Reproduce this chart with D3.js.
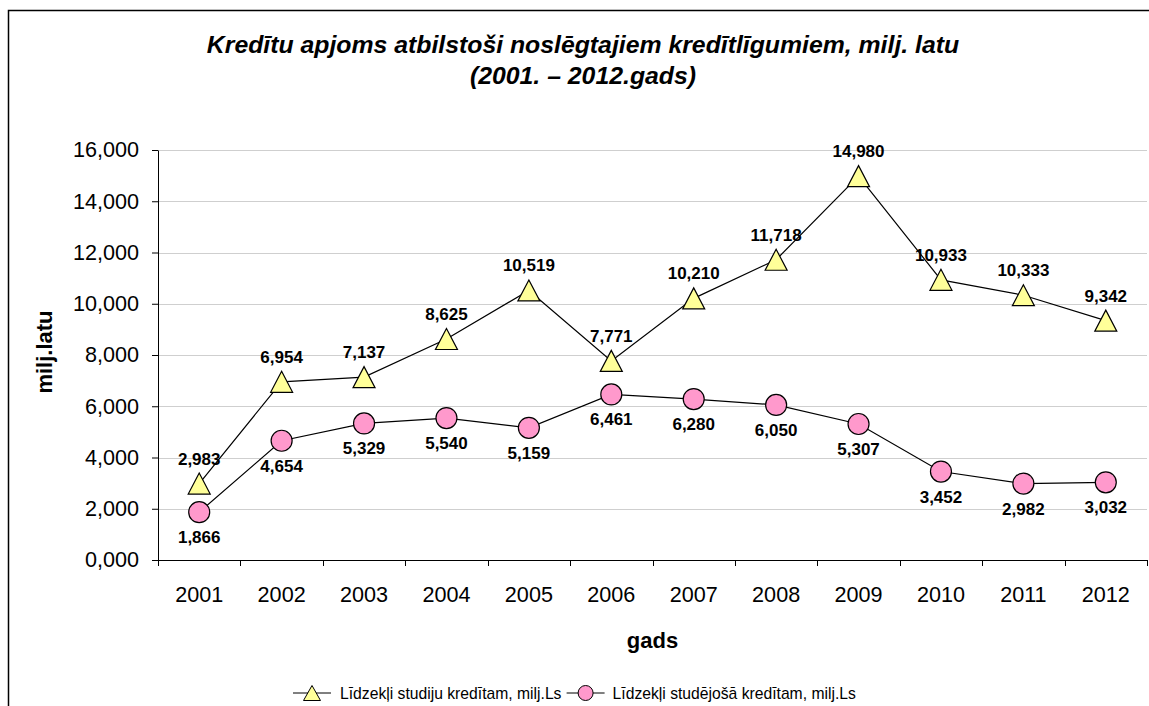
<!DOCTYPE html>
<html>
<head>
<meta charset="utf-8">
<script src="https://cdn.jsdelivr.net/npm/d3@7"></script>
<style>
	body { margin: 0; background: #fff; }
	svg { display: block; font-family: "Liberation Sans", Arial, sans-serif; }
	.grid line { stroke: #cfcfcf; stroke-width: 1; }
	.axis path, .axis line { stroke: #000; }
	.axis text { font-size: 21.6px; fill: #000; }
	.value-label { font-size: 17px; font-weight: bold; }
	.legend text { font-size: 15.7px; }
</style>
</head>
<body>
<div id="chart"></div>
<script>
//chart data, values in millions of lats
let years = ["2001", "2002", "2003", "2004", "2005", "2006", "2007", "2008", "2009", "2010", "2011", "2012"];
let studijuKredits = [2.983, 6.954, 7.137, 8.625, 10.519, 7.771, 10.210, 11.718, 14.980, 10.933, 10.333, 9.342];
let studejosaKredits = [1.866, 4.654, 5.329, 5.540, 5.159, 6.461, 6.280, 6.050, 5.307, 3.452, 2.982, 3.032];
let yTicks = [0, 2, 4, 6, 8, 10, 12, 14, 16];
let seriesNames = ["Līdzekļi studiju kredītam, milj.Ls", "Līdzekļi studējošā kredītam, milj.Ls"];
let titleLines = ["Kredītu apjoms atbilstoši noslēgtajiem kredītlīgumiem, milj. latu", "(2001. – 2012.gads)"];

let drawChart = function (parent) {
	let width = 1149;
	let height = 706;
	let margin = { top: 150, right: 2, bottom: 146, left: 158 };
	let innerW = width - margin.left - margin.right;
	let innerH = height - margin.top - margin.bottom;

	//number format with comma as decimal mark: 2,983
	let lvLocale = d3.formatLocale({ decimal: ",", thousands: " ", grouping: [3], currency: ["", ""] });
	let fmt = lvLocale.format(".3f");

	let svg = d3.select(parent).append("svg")
		.attr("width", width)
		.attr("height", height);

	//outer frame (bottom and right are cut off in the original)
	svg.append("path")
		.attr("d", `M8.5,${height} V10.5 H${width + 5}`)
		.attr("fill", "none")
		.attr("stroke", "#000")
		.attr("stroke-width", 1.5);

	//title
	svg.append("text")
		.attr("x", 583)
		.attr("y", 53)
		.attr("text-anchor", "middle")
		.style("font-size", "24.8px")
		.style("font-weight", "bold")
		.style("font-style", "italic")
		.selectAll("tspan")
		.data(titleLines)
		.enter()
		.append("tspan")
		.attr("x", 583)
		.attr("dy", (d, i) => i === 0 ? 0 : 31)
		.text(d => d);

	let g = svg.append("g")
		.attr("transform", `translate(${margin.left}, ${margin.top})`);

	let x = d3.scaleBand().domain(years).range([0, innerW]);
	let y = d3.scaleLinear().domain([0, 16]).range([innerH, 0]);

	//gridlines
	g.append("g")
		.attr("class", "grid")
		.selectAll("line")
		.data(yTicks.filter(d => d > 0))
		.enter()
		.append("line")
		.attr("x1", 0)
		.attr("x2", innerW)
		.attr("y1", d => Math.round(y(d)) + 0.5)
		.attr("y2", d => Math.round(y(d)) + 0.5);

	//y axis
	g.append("g")
		.attr("class", "axis")
		.call(d3.axisLeft(y).tickValues(yTicks).tickFormat(fmt).tickSize(6).tickSizeOuter(0).tickPadding(13));

	//x axis, ticks sit between the categories
	let xAxis = g.append("g")
		.attr("class", "axis")
		.attr("transform", `translate(0, ${innerH})`)
		.call(d3.axisBottom(x).tickSize(0).tickSizeOuter(0).tickPadding(35));
	xAxis.selectAll(".tick text").attr("dy", "0.32em");
	xAxis.selectAll(".sep")
		.data(d3.range(years.length + 1))
		.enter()
		.append("line")
		.attr("class", "sep")
		.attr("x1", i => Math.round(i * x.bandwidth()) + 0.5)
		.attr("x2", i => Math.round(i * x.bandwidth()) + 0.5)
		.attr("y1", 0)
		.attr("y2", 6);

	//axis titles
	svg.append("text")
		.attr("x", margin.left + innerW / 2)
		.attr("y", 648)
		.attr("text-anchor", "middle")
		.style("font-size", "22px")
		.style("font-weight", "bold")
		.text("gads");
	svg.append("text")
		.attr("transform", "translate(52, 352) rotate(-90)")
		.attr("text-anchor", "middle")
		.style("font-size", "22px")
		.style("font-weight", "bold")
		.text("milj.latu");

	let cx = (d, i) => x(years[i]) + x.bandwidth() / 2;
	let line = d3.line()
		.x(cx)
		.y(d => y(d));

	let triPath = "M0,-10.5 L11,10.5 L-11,10.5 Z";

	//lines
	g.append("path")
		.attr("d", line(studijuKredits))
		.attr("fill", "none")
		.attr("stroke", "#000")
		.attr("stroke-width", 1.2);
	g.append("path")
		.attr("d", line(studejosaKredits))
		.attr("fill", "none")
		.attr("stroke", "#000")
		.attr("stroke-width", 1.2);

	//markers
	g.selectAll(".tri")
		.data(studijuKredits)
		.enter()
		.append("path")
		.attr("class", "tri")
		.attr("d", triPath)
		.attr("transform", (d, i) => `translate(${cx(d, i)}, ${y(d)})`)
		.attr("fill", "#ffff99")
		.attr("stroke", "#000")
		.attr("stroke-width", 1.2);
	g.selectAll(".dot")
		.data(studejosaKredits)
		.enter()
		.append("circle")
		.attr("class", "dot")
		.attr("cx", cx)
		.attr("cy", d => y(d))
		.attr("r", 10.5)
		.attr("fill", "#ff99cc")
		.attr("stroke", "#000")
		.attr("stroke-width", 1.2);

	//value labels: above the triangles, below the circles
	g.selectAll(".lbl-tri")
		.data(studijuKredits)
		.enter()
		.append("text")
		.attr("class", "value-label")
		.attr("x", cx)
		.attr("y", d => y(d) - 19)
		.attr("text-anchor", "middle")
		.text(d => fmt(d));
	g.selectAll(".lbl-dot")
		.data(studejosaKredits)
		.enter()
		.append("text")
		.attr("class", "value-label")
		.attr("x", cx)
		.attr("y", d => y(d) + 31)
		.attr("text-anchor", "middle")
		.text(d => fmt(d));

	//legend
	let legend = svg.append("g")
		.attr("class", "legend")
		.attr("transform", "translate(293, 693)");
	let l1 = legend.append("g");
	l1.append("line").attr("x1", 0).attr("x2", 38).attr("stroke", "#000");
	l1.append("path").attr("d", "M0,-7.5 L8.5,7.5 L-8.5,7.5 Z").attr("transform", "translate(19, 0)")
		.attr("fill", "#ffff99").attr("stroke", "#000");
	l1.append("text").attr("x", 47).attr("dy", "0.35em").text(seriesNames[0]);
	let legendGap = l1.node().getBBox().width + 5;
	let l2 = legend.append("g").attr("transform", `translate(${legendGap}, 0)`);
	l2.append("line").attr("x1", 0).attr("x2", 38).attr("stroke", "#000");
	l2.append("circle").attr("cx", 19).attr("r", 7.5)
		.attr("fill", "#ff99cc").attr("stroke", "#000");
	l2.append("text").attr("x", 46).attr("dy", "0.35em").text(seriesNames[1]);

	return svg.node();
};

drawChart(d3.select("#chart").node());
</script>
</body>
</html>
